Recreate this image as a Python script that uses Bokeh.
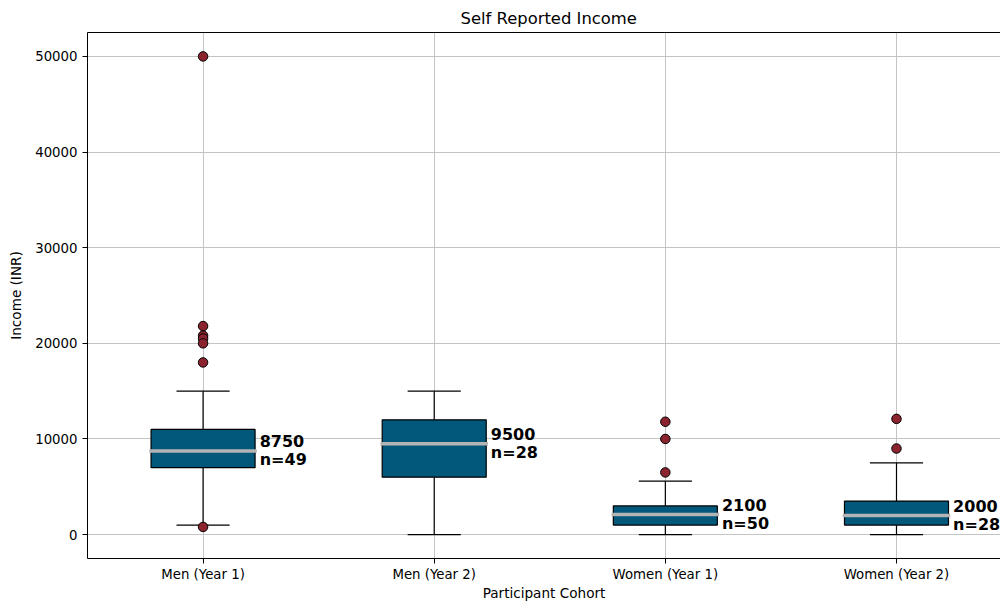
from bokeh.plotting import figure
from bokeh.models import FixedTicker, LinearAxis, BasicTickFormatter, Range1d, ColumnDataSource
from bokeh.core.properties import value
from bokeh.embed import file_html
from bokeh.resources import INLINE

cohorts = ["Men (Year 1)", "Men (Year 2)", "Women (Year 1)", "Women (Year 2)"]
q1 = [7000, 6000, 1000, 1000]
q3 = [11000, 12000, 3000, 3500]
medians = [8750, 9500, 2100, 2000]
whisker_low = [1000, 0, 0, 0]
whisker_high = [15000, 15000, 5600, 7500]
counts = [49, 28, 50, 28]
outlier_cohort = [0, 0, 0, 0, 0, 0, 0, 2, 2, 2, 3, 3]
outlier_value = [50000, 21800, 20800, 20500, 20000, 18000, 800, 11800, 10000, 6500, 12100, 9000]
y_ticks = [0, 10000, 20000, 30000, 40000, 50000]

pos = [i + 1 for i in range(len(cohorts))]
box_w = 0.45
cap_w = 0.23

FONT = "DejaVu Sans"
p = figure(width=1000, height=603, output_backend="svg", toolbar_location=None,
           x_range=Range1d(0.5, 4.45), y_range=Range1d(-2500, 52500),
           min_border_left=87, min_border_right=0, min_border_top=32, min_border_bottom=40,
           title="Self Reported Income")
p.outline_line_color = None
p.background_fill_color = "white"
p.title.align = "left"
p.title.offset = 373
p.title.text_font = FONT
p.title.text_font_style = "normal"
p.title.text_font_size = "16.4px"
p.title.text_color = "black"

p.xaxis.ticker = FixedTicker(ticks=pos)
p.xaxis.major_label_overrides = {i + 1: c for i, c in enumerate(cohorts)}
p.yaxis.ticker = FixedTicker(ticks=y_ticks)
p.yaxis.formatter = BasicTickFormatter(use_scientific=False)
p.xaxis.axis_label = "Participant Cohort"
p.yaxis.axis_label = "Income (INR)"
for ax in (p.xaxis, p.yaxis):
    ax.axis_label_text_font = FONT
    ax.axis_label_text_font_style = "normal"
    ax.axis_label_text_font_size = "13.6px"
    ax.axis_label_text_color = "black"
    ax.major_label_text_font = FONT
    ax.major_label_text_font_size = "13.3px"
    ax.major_label_text_color = "black"
    ax.axis_line_color = "black"
    ax.major_tick_line_color = "black"
    ax.major_tick_out = 5
    ax.major_tick_in = 0
    ax.minor_tick_line_color = None
p.xaxis.major_label_standoff = 3
p.xaxis.axis_label_standoff = 0
p.yaxis.major_label_standoff = 5
p.yaxis.axis_label_standoff = 8

top = LinearAxis(ticker=FixedTicker(ticks=[]), axis_line_color="black",
                 major_tick_line_color=None, minor_tick_line_color=None,
                 major_label_text_font_size="0px")
p.add_layout(top, "above")

p.grid.grid_line_color = "#c4c4c4"
p.grid.grid_line_width = 1
p.xgrid.ticker = FixedTicker(ticks=pos)
p.ygrid.ticker = FixedTicker(ticks=y_ticks)

src = ColumnDataSource(dict(
    x=pos, q1=q1, q3=q3, med=medians, lo=whisker_low, hi=whisker_high,
    cl=[x - cap_w / 2 for x in pos], cr=[x + cap_w / 2 for x in pos],
    ml=[x - box_w / 2 for x in pos], mr=[x + box_w / 2 for x in pos],
    tx=[x + box_w / 2 + 0.02 for x in pos],
    label=[f"{m}\nn={n}" for m, n in zip(medians, counts)],
))

# whiskers
p.segment(x0="x", y0="q3", x1="x", y1="hi", source=src, line_color="black", line_width=1.2)
p.segment(x0="x", y0="q1", x1="x", y1="lo", source=src, line_color="black", line_width=1.2)
p.segment(x0="cl", y0="hi", x1="cr", y1="hi", source=src, line_color="black", line_width=1.2)
p.segment(x0="cl", y0="lo", x1="cr", y1="lo", source=src, line_color="black", line_width=1.2)
# boxes
p.vbar(x="x", width=box_w, bottom="q1", top="q3", source=src,
       fill_color="#02587b", line_color="black", line_width=1.2)
# medians
p.segment(x0="ml", y0="med", x1="mr", y1="med", source=src,
          line_color="#b4b4b4", line_width=3.5, line_cap="square")
# outliers
p.scatter(x=[pos[i] for i in outlier_cohort], y=outlier_value, size=9.5,
          fill_color="#8c2430", line_color="black", line_width=1)
# labels
p.text(x="tx", y="med", text="label", source=src, text_align="left", text_baseline="middle",
       text_font=value(FONT), text_font_style="bold", text_font_size="16px",
       text_color="black", text_line_height=0.95)

open("out.html", "w").write(file_html(p, INLINE))
